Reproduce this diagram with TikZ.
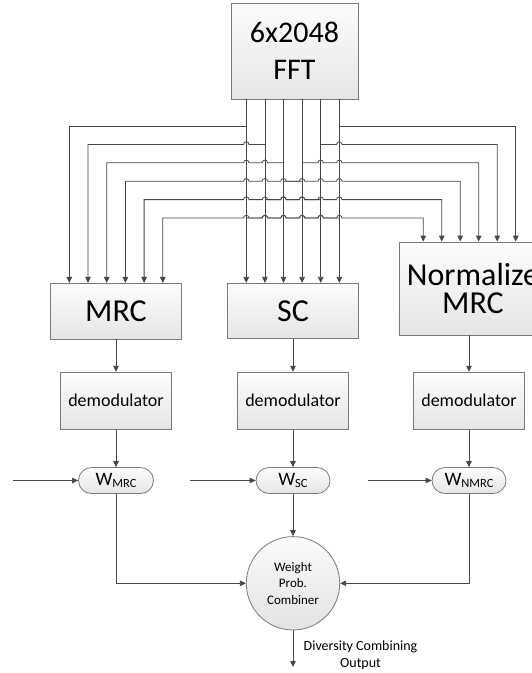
\documentclass[tikz,border=0pt]{standalone}
\usepackage{fontspec}
\setmainfont{Carlito}
\usetikzlibrary{arrows.meta,calc}
\definecolor{wirecol}{HTML}{474747}
\definecolor{edgecol}{HTML}{7A7A7A}
% weight label: large W with a lowered, smaller index
\newcommand\wsub[1]{\raisebox{-0.15em}{\fontsize{12.5}{12.5}\selectfont #1}}
\begin{document}
\begin{tikzpicture}[x=1pt,y=-1pt,
  wire/.style={draw=wirecol,line width=0.8pt},
  arr/.style={-{Triangle[length=6pt,width=5.5pt]}},
  box/.style={draw=edgecol,line width=0.8pt,top color=black!1,bottom color=black!10,
              inner sep=0pt,align=center},
  big/.style={font=\fontsize{32}{28.5}\selectfont},
  pill/.style={box,rounded corners=13pt,minimum height=26pt,minimum width=75pt,
               font=\fontsize{19}{19}\selectfont},
  demod/.style={box,minimum width=111.7pt,minimum height=57pt,
                font=\fontsize{18}{21}\selectfont}]
\useasboundingbox (0,0) rectangle (531,673);

% processing blocks
\node[box,minimum width=127pt,minimum height=96pt,font=\fontsize{30}{36.6}\selectfont]
  (fft) at (294.5,51) {6x2048\\FFT};
\node[box,big,minimum width=131pt,minimum height=55.7pt] (mrc) at (116,311.2) {MRC};
\node[box,big,minimum width=131pt,minimum height=55pt] (sc) at (293,310.8) {SC};
\node[box,big,minimum width=129.4pt,minimum height=93pt] (nmrc) at (469,288.5)
  {\hspace*{8pt}Normalize\\\hspace*{8pt}MRC};

\node[demod] (dm1) at (116,400.7) {demodulator};
\node[demod] (dm2) at (293,400.7) {demodulator};
\node[demod] (dm3) at (469,400.7) {demodulator};

\node[pill] (w1) at (116,480.5) {W\wsub{MRC}};
\node[pill,minimum width=74pt] (w2) at (293,480.5) {W\wsub{SC}};
\node[pill,minimum width=74pt] (w3) at (469,480.5) {W\wsub{NMRC}};

\node[draw=edgecol,line width=0.8pt,circle,minimum size=93.4pt,inner sep=0pt,
      top color=black!2,bottom color=black!11,align=center,
      font=\fontsize{13}{16.7}\selectfont] (comb) at (293,583.3) {Weight\\Prob.\\Combiner};

\node[anchor=north,align=center,font=\fontsize{14}{17}\selectfont,inner sep=0pt]
  (outlbl) at (360.5,641) {Diversity Combining\\Output};

% FFT output ports and bus corner points
\foreach \j in {0,...,5} \coordinate (v\j) at ({246.3+18.6*\j},99);
\foreach \i in {0,...,5} {
  \coordinate (hl\i) at ({69.3+18.7*\i},{126+18.4*\i});
  \coordinate (hr\i) at ({515.7-18.5*\i},{126+18.4*\i});
}

% straight bus into SC
\foreach \j in {0,...,5} \draw[wire,arr] (v\j) -- (v\j |- sc.north);

% bus into MRC, hopping over the straight lines
\draw[wire,arr] (v0 |- hl0) -- (hl0) -- (hl0 |- mrc.north);
\foreach \i [evaluate=\i as \a using int(\i-1), evaluate=\i as \yy using 126+18.4*\i] in {1,...,5}
  \draw[wire,arr] (v\i |- hl\i)
    \foreach \j in {\a,...,0} { -- ({246.3+18.6*\j+2.7},\yy)
        arc[start angle=0,end angle=180,radius=2.7pt] }
    -- (hl\i) -- (hl\i |- mrc.north);

% bus into Normalize MRC
\draw[wire,arr] (v5 |- hr0) -- (hr0) -- (hr0 |- nmrc.north);
\foreach \i [evaluate=\i as \s using int(5-\i), evaluate=\i as \b using int(6-\i),
             evaluate=\i as \yy using 126+18.4*\i] in {1,...,5}
  \draw[wire,arr] (v\s |- hr\i)
    \foreach \j in {\b,...,5} { -- ({246.3+18.6*\j-2.7},\yy)
        arc[start angle=180,end angle=0,radius=2.7pt] }
    -- (hr\i) -- (hr\i |- nmrc.north);

% each branch: combiner -> demodulator -> weight
\draw[wire,arr] (mrc.south) -- (dm1.north);
\draw[wire,arr] (sc.south) -- (dm2.north);
\draw[wire,arr] (nmrc.south) -- (dm3.north);
\draw[wire,arr] (dm1.south) -- (w1.north);
\draw[wire,arr] (dm2.south) -- (w2.north);
\draw[wire,arr] (dm3.south) -- (w3.north);

% weight inputs
\coordinate (in1) at (13,480.5);
\coordinate (in2) at (190,480.5);
\coordinate (in3) at (368,480.5);
\draw[wire,arr] (in1) -- (w1.west);
\draw[wire,arr] (in2) -- (w2.west);
\draw[wire,arr] (in3) -- (w3.west);

% into the weighted combiner and out
\draw[wire,arr] (w1.south) |- (comb.west);
\draw[wire,arr] (w2.south) -- (comb.north);
\draw[wire,arr] (w3.south) |- (comb.east);
\coordinate (out) at (293,667);
\draw[wire,arr] (comb.south) -- (out);
\end{tikzpicture}
\end{document}
